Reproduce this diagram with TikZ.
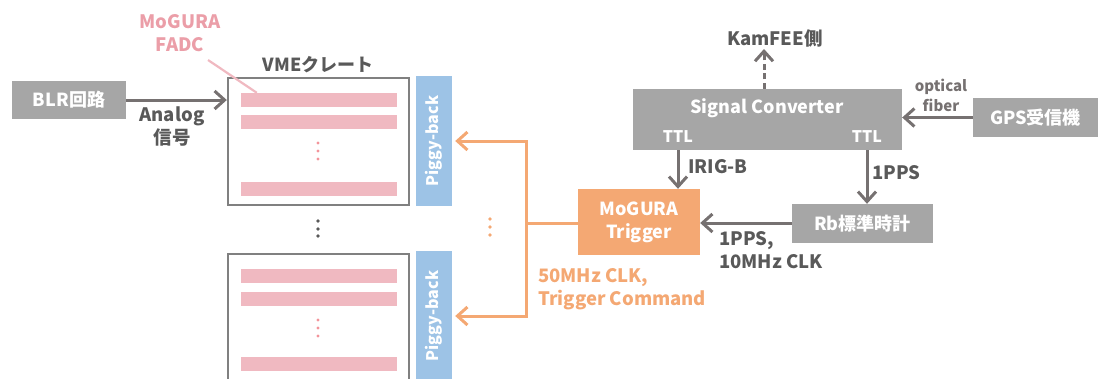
\documentclass[tikz,border=0pt]{standalone}
\usepackage{fontspec}
\setmainfont{Noto Sans CJK JP}
\usetikzlibrary{arrows.meta}
\definecolor{boxgray}{HTML}{A6A6A6}
\definecolor{arrgray}{HTML}{767171}
\definecolor{txtgray}{HTML}{595959}
\definecolor{crategray}{HTML}{808080}
\definecolor{pinkbar}{HTML}{F0B9C1}
\definecolor{pinktxt}{HTML}{EB9EA8}
\definecolor{orng}{HTML}{F4A873}
\definecolor{blu}{HTML}{9DC3E6}
\tikzset{
  graybox/.style={fill=boxgray, text=white, inner sep=0pt, align=center,
    font=\bfseries\fontsize{18}{22}\selectfont},
  lbl/.style={text=txtgray, inner sep=0pt, align=left,
    font=\bfseries\fontsize{18.5}{23}\selectfont},
  tipb/.style={-{Straight Barb[length=10pt,width=18pt]}},
  arr/.style={draw=arrgray, line width=3pt, tipb},
  oline/.style={draw=orng, line width=3pt},
  oarr/.style={oline, tipb},
  crate/.style={draw=crategray, line width=2.4pt, fill=white, minimum width=181pt, minimum height=127pt, inner sep=0pt},
  bar/.style={fill=pinkbar, minimum width=156pt, minimum height=14pt, inner sep=0pt},
  piggy/.style={fill=blu, text=white, minimum width=36pt, minimum height=130pt, inner sep=0pt,
    font=\bfseries\fontsize{16}{19}\selectfont},
}
\begin{document}
\begin{tikzpicture}[x=1pt,y=-1pt]
\useasboundingbox (0,0) rectangle (1102,378);
% BLR
\node[graybox, minimum width=114pt, minimum height=38pt] (blr) at (69,100) {BLR回路};
% crates
\node[crate] (crate1) at (318.5,141.5) {};
\node[crate] (crate2) at (318.5,317.5) {};
\node[text=txtgray, inner sep=0pt, font=\bfseries\fontsize{18}{22}\selectfont] (vme) at (318,65) {VMEクレート};
% bars upper
\node[bar] (b11) at (319,100) {};
\node[bar] (b12) at (319,122) {};
\node[bar] (b13) at (319,189) {};
\foreach \y in {143,151,159} \fill[pinkbar!80!red] (318,\y) circle (1.6pt);
% bars lower
\node[bar] (b21) at (319,275.5) {};
\node[bar] (b22) at (319,298.5) {};
\node[bar] (b23) at (319,364) {};
\foreach \y in {320,328,336} \fill[pinkbar!80!red] (318,\y) circle (1.6pt);
% dots between crates
\foreach \y in {221,229,236} \fill[txtgray] (318,\y) circle (1.9pt);
% FADC label
\node[text=pinktxt, align=center, inner sep=0pt, font=\bfseries\fontsize{18.5}{23}\selectfont] (fadc) at (180,33) {MoGURA\\FADC};
\coordinate (lead) at (208,60);
\draw[pinkbar, line width=2.2pt] (lead) -- ([xshift=16pt]b11.north west);
% BLR arrow
\draw[arr] (blr.east) -- (blr.east -| crate1.west);
\node[lbl, align=center] (analog) at (172,126) {Analog\\信号};
% piggy-back
\node[piggy] (pig1) at (434,141) {\rotatebox{90}{Piggy-back}};
\node[piggy] (pig2) at (434,316) {\rotatebox{90}{Piggy-back}};
% signal converter
\node[graybox, minimum width=269pt, minimum height=61pt] (sc) at (767.5,119.5) {};
\node[text=white, inner sep=0pt, font=\bfseries\fontsize{18}{22}\selectfont] (sctxt) at (767,108) {Signal Converter};
\node[text=white, inner sep=0pt, font=\bfseries\fontsize{16}{19}\selectfont] (ttlL) at (678,137) {TTL};
\node[text=white, inner sep=0pt, font=\bfseries\fontsize{16}{19}\selectfont] (ttlR) at (867,137) {TTL};
% KamFEE
\node[lbl] (kam) at (775,38) {KamFEE側};
\coordinate (kamtip) at (764,49);
\draw[arr, dash pattern=on 6pt off 3.5pt] (sc.north -| kamtip) -- (kamtip);
% GPS
\node[graybox, minimum width=125pt, minimum height=39pt] (gps) at (1035.5,117.5) {GPS受信機};
\draw[arr] (gps.west) -- (gps.west -| sc.east);
\node[text=arrgray, align=center, inner sep=0pt, font=\bfseries\fontsize{15}{20}\selectfont] (opt) at (941,95) {optical\\fiber};
% trigger
\node[fill=orng, text=white, minimum width=122pt, minimum height=66pt, inner sep=0pt, align=center,
  font=\bfseries\fontsize{18}{23}\selectfont] (trig) at (639,222) {MoGURA\\Trigger};
% Rb
\node[graybox, minimum width=141pt, minimum height=39pt] (rb) at (862.5,223.5) {Rb標準時計};
% arrows
\draw[arr] (ttlL |- sc.south) -- (ttlL |- trig.north);
\node[lbl, anchor=west] (irig) at (688,167) {IRIG-B};
\draw[arr] (ttlR |- sc.south) -- (ttlR |- rb.north);
\node[lbl, anchor=west] (pps) at (872,173) {1PPS};
\draw[arr] (rb.west |- 0,223) -- (trig.east |- 0,223);
\node[lbl, anchor=north west] (clk) at (719,231) {1PPS,\\10MHz CLK};
% orange
\coordinate (j) at (526,223);
\draw[oline] (trig.west |- j) -- (j);
\draw[oarr, line join=miter] (j) |- ([xshift=3pt]pig1.east);
\draw[oarr, line join=miter] (j) |- ([xshift=3pt]pig2.east);
\foreach \y in {219,227,235} \fill[orng] (490,\y) circle (1.9pt);
\node[text=orng, anchor=north west, align=left, inner sep=0pt, font=\bfseries\fontsize{18.5}{23}\selectfont] (cmd) at (538,268) {50MHz CLK,\\Trigger Command};
\end{tikzpicture}
\end{document}
